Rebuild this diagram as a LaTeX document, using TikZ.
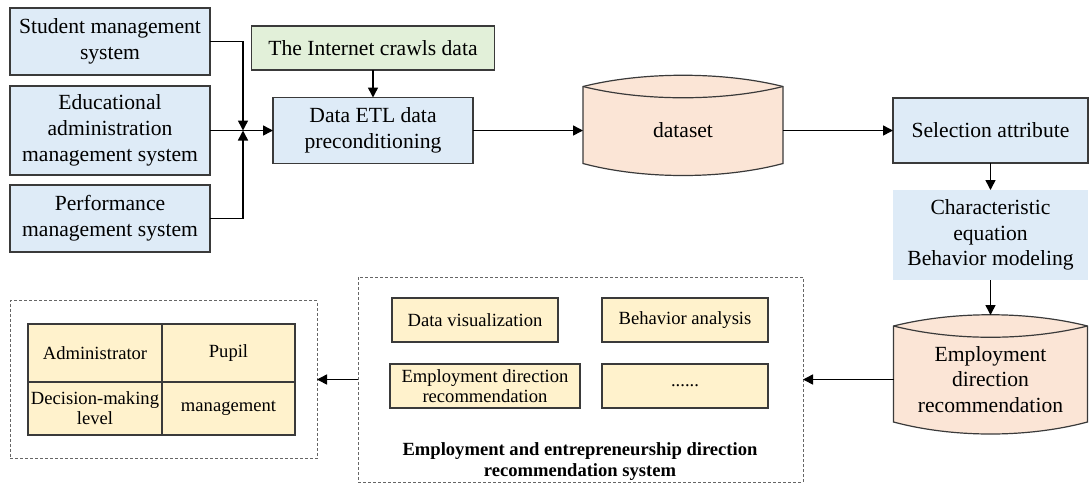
\documentclass[tikz,border=0pt]{standalone}
\usepackage{fontspec}
\setmainfont{LiberationSerif}[Extension=.ttf, UprightFont=*-Regular, BoldFont=*-Bold,
    ItalicFont=*-Italic, BoldItalicFont=*-BoldItalic]
\usepackage{tikz}
\usetikzlibrary{arrows.meta, positioning, calc, backgrounds}

\definecolor{srcblue}{HTML}{DEEBF7}
\definecolor{webgreen}{HTML}{E2F0D9}
\definecolor{drumpeach}{HTML}{FBE5D6}
\definecolor{cellyellow}{HTML}{FFF2CC}
\definecolor{edge}{HTML}{3A3A3A}

\begin{document}
\begin{tikzpicture}[
    x=0.5pt, y=-0.5pt,
    every node/.style={font=\fontsize{10.8}{12.9}\selectfont, inner sep=1pt, outer sep=0pt},
    box/.style={draw=edge, line width=0.6pt, fill=srcblue, align=center, minimum width=100pt},
    web/.style={box, fill=webgreen},
    drum/.style={minimum width=100pt, align=center},
    cell/.style={draw=edge, line width=0.6pt, fill=cellyellow, align=center,
                 font=\fontsize{9.3}{10}\selectfont},
    frame/.style={draw=gray!80!black, dash pattern=on 1.5pt off 1pt, line width=0.4pt},
    arrow/.style={-{Triangle[length=5pt, width=5pt]}, line width=0.75pt}
]
    \useasboundingbox (0,0) rectangle (1089,484);

    % sources
    \node[box, minimum height=33.5pt] (stu) at (110,41.5) {Student management\\system};
    \node[box, minimum height=44.5pt] (edu) at (110,130.5) {Educational\\administration\\management system};
    \node[box, minimum height=33.5pt] (perf) at (110,218.5) {Performance\\management system};
    \node[web, minimum width=121.5pt, minimum height=22pt] (inet) at (373,48) {The Internet crawls data};
    \node[box, minimum height=33pt] (etl) at (373,130.5) {Data ETL data\\preconditioning};

    % data and modeling
    \node[drum, minimum height=33pt] (dataset) at (683,130.5) {dataset};
    \node[box, minimum width=97.5pt, minimum height=32.5pt] (attr) at (990.5,130.5) {Selection attribute};
    \node[box, draw=none, minimum width=97.5pt, minimum height=45pt] (charq) at (990.5,235)
        {Characteristic\\equation\\Behavior modeling};
    \node[drum, minimum width=97pt, minimum height=42.5pt] (emprec) at (990.5,379.5)
        {Employment\\direction\\recommendation};

    \begin{scope}[on background layer]
    \foreach \drm in {dataset, emprec} {
        \coordinate (\drm-top) at ($(\drm.north)+(0,-22)$);
        \draw[draw=edge, line width=0.6pt, fill=drumpeach]
            ($(\drm.north west)+(0,-11)$) .. controls +(60,-15) and +(-60,-15) .. ($(\drm.north east)+(0,-11)$)
            -- (\drm.south east) .. controls +(-60,16) and +(60,16) .. (\drm.south west) -- cycle;
        \draw[draw=edge, line width=0.6pt]
            ($(\drm.north west)+(0,-11)$) .. controls +(60,15) and +(-60,15) .. ($(\drm.north east)+(0,-11)$);
    }
    \end{scope}

    % recommendation system
    \node[frame, minimum width=222.5pt, minimum height=102.5pt] (sys) at (580.5,379.5) {};
    \node[cell, minimum width=83pt, minimum height=22pt] (dviz) at (475,320) {Data visualization};
    \node[cell, minimum width=83pt, minimum height=22pt] (banal) at (685,320) {Behavior analysis};
    \node[cell, minimum width=95pt, minimum height=22pt] (edrec) at (485,386) {Employment direction\\recommendation};
    \node[cell, minimum width=83pt, minimum height=22pt] (more) at (685,386) {......};
    \node[font=\bfseries\fontsize{9.3}{10.5}\selectfont, align=center] (systitle) at (580,462)
        {Employment and entrepreneurship direction\\recommendation system};

    % users
    \node[frame, minimum width=153.5pt, minimum height=79pt] (roles) at (163.5,379.5) {};
    \node[cell, minimum width=67pt, minimum height=29pt] (admin) at (95,353) {Administrator};
    \node[cell, minimum width=66.5pt, minimum height=29pt, right=0pt of admin] (pupil) {Pupil};
    \node[cell, minimum width=67pt, minimum height=26.5pt, below=0pt of admin] (decis) {Decision-making\\level};
    \node[cell, minimum width=66.5pt, minimum height=26.5pt, below=0pt of pupil] (mgmt) {management};

    \coordinate (join) at ($(etl.west)+(-30,0)$);
    \draw[arrow] (stu) -| (join);
    \draw[arrow] (perf) -| (join);
    \draw[arrow] (edu) -- (etl);
    \draw[arrow] (inet) -- (etl);
    \draw[arrow] (etl) -- (dataset);
    \draw[arrow] (dataset) -- (attr);
    \draw[arrow] (attr) -- (charq);
    \draw[arrow] (charq) -- (emprec-top);
    \draw[arrow] (emprec) -- (emprec -| sys.east);
    \draw[arrow] (sys) -- (roles);
\end{tikzpicture}
\end{document}
